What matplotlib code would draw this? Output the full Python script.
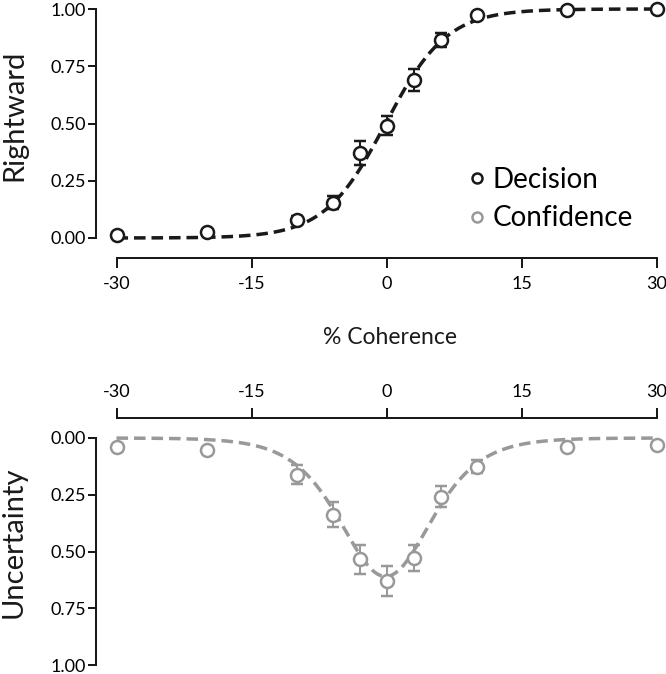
import numpy as np
import matplotlib
matplotlib.use('Agg')
import matplotlib.pyplot as plt
from matplotlib.lines import Line2D

plt.rcParams['font.family'] = ['Lato', 'DejaVu Sans']
plt.rcParams['axes.unicode_minus'] = False

# datos
coherence = [-30, -20, -10, -6, -3, 0, 3, 6, 10, 20, 30]
decision = [0.012, 0.025, 0.08, 0.155, 0.37, 0.49, 0.69, 0.865, 0.972, 0.995, 1.0]
decision_err = [0.004, 0.005, 0.018, 0.028, 0.052, 0.042, 0.047, 0.03, 0.012, 0.004, 0.003]
uncertainty = [0.038, 0.053, 0.162, 0.338, 0.535, 0.63, 0.528, 0.259, 0.126, 0.038, 0.031]
uncertainty_err = [0.005, 0.006, 0.042, 0.055, 0.063, 0.066, 0.056, 0.046, 0.03, 0.005, 0.005]
xticks = [-30, -15, 0, 15, 30]
yticks = [0, 0.25, 0.5, 0.75, 1.0]
yticklabels = ['0.00', '0.25', '0.50', '0.75', '1.00']

# parametros del ajuste (logistica y su "campana")
fit_mu = -0.1
fit_s = 3.4
fit_amp = 0.61

black = '#1a1a1a'
grey = '#999999'
px = 72 / 100  # pixeles -> puntos

xfit = np.linspace(-30, 30, 400)
pfit = 1 / (1 + np.exp(-(xfit - fit_mu) / fit_s))
ufit = fit_amp * 4 * pfit * (1 - pfit)

fig = plt.figure(figsize=(6.66, 6.74), dpi=100)
ax1 = fig.add_axes([116.5 / 666, (674 - 238) / 674, 540 / 666, 229 / 674])
ax2 = fig.add_axes([116.5 / 666, (674 - 665) / 674, 540 / 666, 227 / 674])

# guiones en unidades del ancho de linea (~12 px on, 6 px off con lw 3.5 px)
dash = (0, (3.3, 1.7))
mk = dict(marker='o', ms=13 * px, mew=2.5 * px, mfc='white', ls='none',
          capsize=6 * px, elinewidth=2 * px, capthick=2 * px, clip_on=False, zorder=3)


def estilo(ax, xside):
    for s in ['right', xside == 'bottom' and 'top' or 'bottom']:
        ax.spines[s].set_visible(False)
    ax.spines['left'].set_position(('outward', 21 * px))
    ax.spines[xside].set_position(('outward', 20 * px))
    ax.spines['left'].set_bounds(0, 1)
    ax.spines[xside].set_bounds(-30, 30)
    for s in ['left', xside]:
        ax.spines[s].set_linewidth(2 * px)
        ax.spines[s].set_color(black)
    ax.set_xlim(-30, 30)
    ax.set_xticks(xticks)
    ax.set_yticks(yticks)
    ax.set_yticklabels(yticklabels)
    ax.tick_params(axis='x', length=10 * px, width=2 * px, labelsize=13, pad=6, color=black)
    ax.tick_params(axis='y', length=8 * px, width=2 * px, labelsize=13, pad=1, color=black)
    ax.patch.set_visible(False)


# panel superior: decision
ax1.plot(xfit, pfit, color=black, lw=3.5 * px, linestyle=dash, zorder=2, clip_on=False)
ax1.errorbar(coherence, decision, yerr=decision_err, color=black, mec=black, **mk)
estilo(ax1, 'bottom')
ax1.set_ylim(0, 1)

handles = [Line2D([], [], marker='o', ls='none', ms=10 * px, mew=2.5 * px, mfc='white', mec=black),
           Line2D([], [], marker='o', ls='none', ms=10 * px, mew=2.5 * px, mfc='white', mec=grey)]
ax1.legend(handles, ['Decision', 'Confidence'], loc='center left',
           bbox_to_anchor=((451 - 116.5) / 540, (238 - 199) / 229), frameon=False,
           fontsize=20, handletextpad=0.1, handlelength=0.9, labelspacing=0.45, borderpad=0)

# panel inferior: incertidumbre
ax2.plot(xfit, ufit, color=grey, lw=3.5 * px, linestyle=dash, zorder=2, clip_on=False)
ax2.errorbar(coherence, uncertainty, yerr=uncertainty_err, color=grey, mec=grey, **mk)
estilo(ax2, 'top')
ax2.set_ylim(1, 0)
ax2.xaxis.tick_top()

fig.text(390 / 666, 1 - 337 / 674, '% Coherence', ha='center', va='center', fontsize=16.5, color=black)
fig.text(14 / 666, 1 - 115 / 674, 'Rightward', ha='center', va='center', rotation=90,
         fontsize=21, color=black)
fig.text(14 / 666, 1 - 542 / 674, 'Uncertainty', ha='center', va='center', rotation=90,
         fontsize=21, color=black)

fig.savefig('out.png', dpi=100)
